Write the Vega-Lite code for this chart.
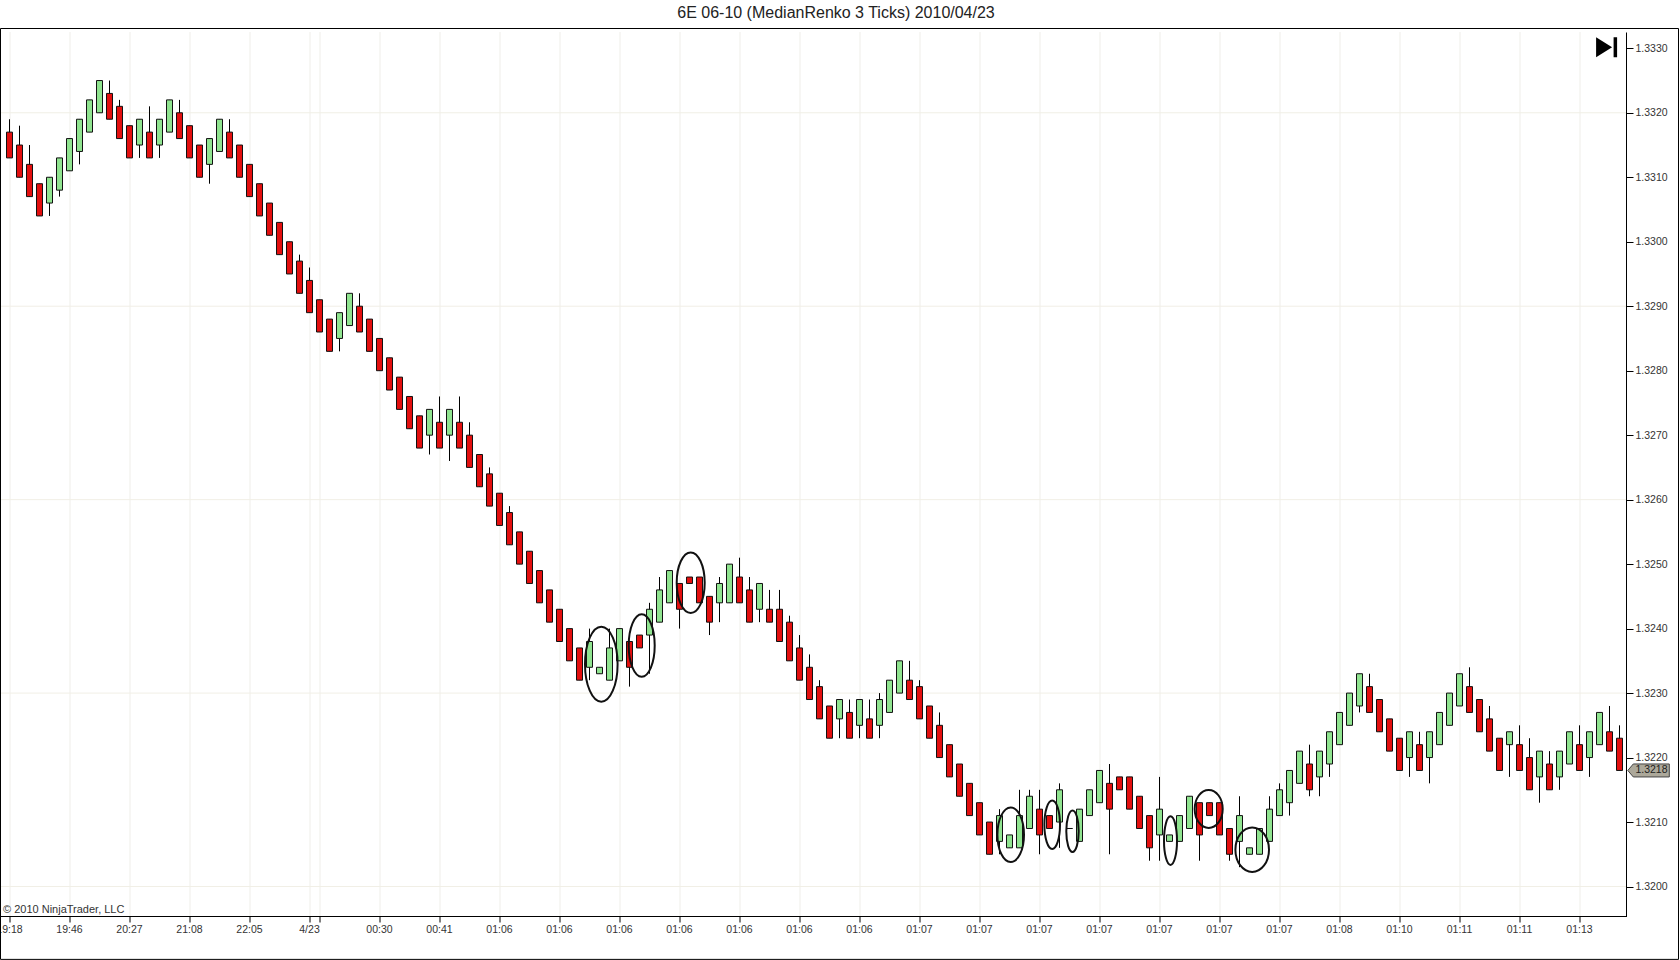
{"$schema":"https://vega.github.io/schema/vega-lite/v6.json","width":1626,"height":884.5,"autosize":"none","padding":{"left":0,"top":32,"right":54,"bottom":43.5},"background":"white","view":{"stroke":null},
"title":{"text":"6E 06-10 (MedianRenko 3 Ticks)  2010/04/23","anchor":"middle","dx":23,"offset":7,"font":"Liberation Sans","fontSize":16,"fontWeight":"normal","color":"#222"},
"datasets":{"bars":[
{"i":0,"o":1.3317,"h":1.3319,"l":1.3313,"c":1.3313},{"i":1,"o":1.3315,"h":1.3318,"l":1.3310,"c":1.3310},{"i":2,"o":1.3312,"h":1.3315,"l":1.3307,"c":1.3307},{"i":3,"o":1.3309,"h":1.3309,"l":1.3304,"c":1.3304},{"i":4,"o":1.3306,"h":1.3310,"l":1.3304,"c":1.3310},{"i":5,"o":1.3308,"h":1.3313,"l":1.3307,"c":1.3313},{"i":6,"o":1.3311,"h":1.3316,"l":1.3311,"c":1.3316},{"i":7,"o":1.3314,"h":1.3319,"l":1.3312,"c":1.3319},{"i":8,"o":1.3317,"h":1.3322,"l":1.3317,"c":1.3322},{"i":9,"o":1.3320,"h":1.3325,"l":1.3320,"c":1.3325},
{"i":10,"o":1.3323,"h":1.3325,"l":1.3319,"c":1.3319},{"i":11,"o":1.3321,"h":1.3322,"l":1.3316,"c":1.3316},{"i":12,"o":1.3318,"h":1.3318,"l":1.3313,"c":1.3313},{"i":13,"o":1.3315,"h":1.3319,"l":1.3313,"c":1.3319},{"i":14,"o":1.3317,"h":1.3321,"l":1.3313,"c":1.3313},{"i":15,"o":1.3315,"h":1.3319,"l":1.3313,"c":1.3319},{"i":16,"o":1.3317,"h":1.3322,"l":1.3317,"c":1.3322},{"i":17,"o":1.3320,"h":1.3322,"l":1.3316,"c":1.3316},{"i":18,"o":1.3318,"h":1.3318,"l":1.3313,"c":1.3313},{"i":19,"o":1.3315,"h":1.3315,"l":1.3310,"c":1.3310},
{"i":20,"o":1.3312,"h":1.3316,"l":1.3309,"c":1.3316},{"i":21,"o":1.3314,"h":1.3319,"l":1.3314,"c":1.3319},{"i":22,"o":1.3317,"h":1.3319,"l":1.3313,"c":1.3313},{"i":23,"o":1.3315,"h":1.3315,"l":1.3310,"c":1.3310},{"i":24,"o":1.3312,"h":1.3312,"l":1.3307,"c":1.3307},{"i":25,"o":1.3309,"h":1.3309,"l":1.3304,"c":1.3304},{"i":26,"o":1.3306,"h":1.3306,"l":1.3301,"c":1.3301},{"i":27,"o":1.3303,"h":1.3303,"l":1.3298,"c":1.3298},{"i":28,"o":1.3300,"h":1.3300,"l":1.3295,"c":1.3295},{"i":29,"o":1.3297,"h":1.3298,"l":1.3292,"c":1.3292},
{"i":30,"o":1.3294,"h":1.3296,"l":1.3289,"c":1.3289},{"i":31,"o":1.3291,"h":1.3291,"l":1.3286,"c":1.3286},{"i":32,"o":1.3288,"h":1.3288,"l":1.3283,"c":1.3283},{"i":33,"o":1.3285,"h":1.3289,"l":1.3283,"c":1.3289},{"i":34,"o":1.3287,"h":1.3292,"l":1.3287,"c":1.3292},{"i":35,"o":1.3290,"h":1.3292,"l":1.3286,"c":1.3286},{"i":36,"o":1.3288,"h":1.3288,"l":1.3283,"c":1.3283},{"i":37,"o":1.3285,"h":1.3285,"l":1.3280,"c":1.3280},{"i":38,"o":1.3282,"h":1.3282,"l":1.3277,"c":1.3277},{"i":39,"o":1.3279,"h":1.3279,"l":1.3274,"c":1.3274},
{"i":40,"o":1.3276,"h":1.3276,"l":1.3271,"c":1.3271},{"i":41,"o":1.3273,"h":1.3273,"l":1.3268,"c":1.3268},{"i":42,"o":1.3270,"h":1.3274,"l":1.3267,"c":1.3274},{"i":43,"o":1.3272,"h":1.3276,"l":1.3268,"c":1.3268},{"i":44,"o":1.3270,"h":1.3274,"l":1.3266,"c":1.3274},{"i":45,"o":1.3272,"h":1.3276,"l":1.3268,"c":1.3268},{"i":46,"o":1.3270,"h":1.3272,"l":1.3265,"c":1.3265},{"i":47,"o":1.3267,"h":1.3267,"l":1.3262,"c":1.3262},{"i":48,"o":1.3264,"h":1.3265,"l":1.3259,"c":1.3259},{"i":49,"o":1.3261,"h":1.3261,"l":1.3256,"c":1.3256},
{"i":50,"o":1.3258,"h":1.3259,"l":1.3253,"c":1.3253},{"i":51,"o":1.3255,"h":1.3255,"l":1.3250,"c":1.3250},{"i":52,"o":1.3252,"h":1.3252,"l":1.3247,"c":1.3247},{"i":53,"o":1.3249,"h":1.3249,"l":1.3244,"c":1.3244},{"i":54,"o":1.3246,"h":1.3246,"l":1.3241,"c":1.3241},{"i":55,"o":1.3243,"h":1.3243,"l":1.3238,"c":1.3238},{"i":56,"o":1.3240,"h":1.3240,"l":1.3235,"c":1.3235},{"i":57,"o":1.3237,"h":1.3237,"l":1.3232,"c":1.3232},{"i":58,"o":1.3234,"h":1.3240,"l":1.3232,"c":1.3238},{"i":59,"o":1.3233,"h":1.3234,"l":1.3233,"c":1.3234},
{"i":60,"o":1.3232,"h":1.3240,"l":1.3232,"c":1.3237},{"i":61,"o":1.3235,"h":1.3240,"l":1.3235,"c":1.3240},{"i":62,"o":1.3238,"h":1.3238,"l":1.3231,"c":1.3234},{"i":63,"o":1.3239,"h":1.3239,"l":1.3237,"c":1.3237},{"i":64,"o":1.3239,"h":1.3244,"l":1.3233,"c":1.3243},{"i":65,"o":1.3241,"h":1.3248,"l":1.3241,"c":1.3246},{"i":66,"o":1.3244,"h":1.3249,"l":1.3244,"c":1.3249},{"i":67,"o":1.3247,"h":1.3247,"l":1.3240,"c":1.3243},{"i":68,"o":1.3248,"h":1.3248,"l":1.3247,"c":1.3247},{"i":69,"o":1.3248,"h":1.3248,"l":1.3244,"c":1.3244},
{"i":70,"o":1.3245,"h":1.3245,"l":1.3239,"c":1.3241},{"i":71,"o":1.3244,"h":1.3248,"l":1.3241,"c":1.3247},{"i":72,"o":1.3244,"h":1.3250,"l":1.3244,"c":1.3250},{"i":73,"o":1.3248,"h":1.3251,"l":1.3244,"c":1.3244},{"i":74,"o":1.3246,"h":1.3248,"l":1.3241,"c":1.3241},{"i":75,"o":1.3243,"h":1.3247,"l":1.3241,"c":1.3247},{"i":76,"o":1.3243,"h":1.3246,"l":1.3241,"c":1.3241},{"i":77,"o":1.3243,"h":1.3246,"l":1.3238,"c":1.3238},{"i":78,"o":1.3241,"h":1.3242,"l":1.3235,"c":1.3235},{"i":79,"o":1.3237,"h":1.3239,"l":1.3232,"c":1.3232},
{"i":80,"o":1.3234,"h":1.3236,"l":1.3229,"c":1.3229},{"i":81,"o":1.3231,"h":1.3232,"l":1.3226,"c":1.3226},{"i":82,"o":1.3228,"h":1.3228,"l":1.3223,"c":1.3223},{"i":83,"o":1.3226,"h":1.3229,"l":1.3223,"c":1.3229},{"i":84,"o":1.3227,"h":1.3229,"l":1.3223,"c":1.3223},{"i":85,"o":1.3225,"h":1.3229,"l":1.3223,"c":1.3229},{"i":86,"o":1.3226,"h":1.3229,"l":1.3223,"c":1.3223},{"i":87,"o":1.3225,"h":1.3230,"l":1.3223,"c":1.3229},{"i":88,"o":1.3227,"h":1.3232,"l":1.3227,"c":1.3232},{"i":89,"o":1.3230,"h":1.3235,"l":1.3230,"c":1.3235},
{"i":90,"o":1.3232,"h":1.3235,"l":1.3229,"c":1.3229},{"i":91,"o":1.3231,"h":1.3232,"l":1.3226,"c":1.3226},{"i":92,"o":1.3228,"h":1.3228,"l":1.3223,"c":1.3223},{"i":93,"o":1.3225,"h":1.3227,"l":1.3220,"c":1.3220},{"i":94,"o":1.3222,"h":1.3222,"l":1.3217,"c":1.3217},{"i":95,"o":1.3219,"h":1.3219,"l":1.3214,"c":1.3214},{"i":96,"o":1.3216,"h":1.3216,"l":1.3211,"c":1.3211},{"i":97,"o":1.3213,"h":1.3213,"l":1.3208,"c":1.3208},{"i":98,"o":1.3210,"h":1.3210,"l":1.3205,"c":1.3205},{"i":99,"o":1.3207,"h":1.3212,"l":1.3205,"c":1.3211},
{"i":100,"o":1.3206,"h":1.3208,"l":1.3206,"c":1.3208},{"i":101,"o":1.3206,"h":1.3215,"l":1.3206,"c":1.3211},{"i":102,"o":1.3209,"h":1.3215,"l":1.3209,"c":1.3214},{"i":103,"o":1.3212,"h":1.3215,"l":1.3205,"c":1.3208},{"i":104,"o":1.3211,"h":1.3211,"l":1.3209,"c":1.3209},{"i":105,"o":1.3210,"h":1.3216,"l":1.3206,"c":1.3215},{"i":106,"o":1.3209,"h":1.3209,"l":1.3209,"c":1.3209},{"i":107,"o":1.3207,"h":1.3212,"l":1.3207,"c":1.3212},{"i":108,"o":1.3211,"h":1.3215,"l":1.3211,"c":1.3215},{"i":109,"o":1.3213,"h":1.3218,"l":1.3213,"c":1.3218},
{"i":110,"o":1.3216,"h":1.3219,"l":1.3205,"c":1.3212},{"i":111,"o":1.3217,"h":1.3217,"l":1.3215,"c":1.3215},{"i":112,"o":1.3217,"h":1.3217,"l":1.3212,"c":1.3212},{"i":113,"o":1.3214,"h":1.3214,"l":1.3209,"c":1.3209},{"i":114,"o":1.3211,"h":1.3211,"l":1.3204,"c":1.3206},{"i":115,"o":1.3208,"h":1.3217,"l":1.3204,"c":1.3212},{"i":116,"o":1.3207,"h":1.3208,"l":1.3207,"c":1.3208},{"i":117,"o":1.3207,"h":1.3211,"l":1.3207,"c":1.3211},{"i":118,"o":1.3209,"h":1.3214,"l":1.3209,"c":1.3214},{"i":119,"o":1.3213,"h":1.3213,"l":1.3204,"c":1.3208},
{"i":120,"o":1.3213,"h":1.3213,"l":1.3211,"c":1.3211},{"i":121,"o":1.3213,"h":1.3213,"l":1.3208,"c":1.3208},{"i":122,"o":1.3209,"h":1.3209,"l":1.3204,"c":1.3205},{"i":123,"o":1.3207,"h":1.3214,"l":1.3203,"c":1.3211},{"i":124,"o":1.3205,"h":1.3206,"l":1.3205,"c":1.3206},{"i":125,"o":1.3205,"h":1.3209,"l":1.3205,"c":1.3209},{"i":126,"o":1.3207,"h":1.3214,"l":1.3207,"c":1.3212},{"i":127,"o":1.3211,"h":1.3216,"l":1.3211,"c":1.3215},{"i":128,"o":1.3213,"h":1.3218,"l":1.3211,"c":1.3218},{"i":129,"o":1.3216,"h":1.3221,"l":1.3216,"c":1.3221},
{"i":130,"o":1.3219,"h":1.3222,"l":1.3214,"c":1.3215},{"i":131,"o":1.3217,"h":1.3221,"l":1.3214,"c":1.3221},{"i":132,"o":1.3219,"h":1.3224,"l":1.3217,"c":1.3224},{"i":133,"o":1.3222,"h":1.3227,"l":1.3222,"c":1.3227},{"i":134,"o":1.3225,"h":1.3230,"l":1.3225,"c":1.3230},{"i":135,"o":1.3228,"h":1.3233,"l":1.3227,"c":1.3233},{"i":136,"o":1.3231,"h":1.3233,"l":1.3227,"c":1.3227},{"i":137,"o":1.3229,"h":1.3229,"l":1.3224,"c":1.3224},{"i":138,"o":1.3226,"h":1.3226,"l":1.3221,"c":1.3221},{"i":139,"o":1.3223,"h":1.3223,"l":1.3218,"c":1.3218},
{"i":140,"o":1.3220,"h":1.3224,"l":1.3217,"c":1.3224},{"i":141,"o":1.3222,"h":1.3224,"l":1.3218,"c":1.3218},{"i":142,"o":1.3220,"h":1.3224,"l":1.3216,"c":1.3224},{"i":143,"o":1.3222,"h":1.3227,"l":1.3222,"c":1.3227},{"i":144,"o":1.3225,"h":1.3230,"l":1.3225,"c":1.3230},{"i":145,"o":1.3228,"h":1.3233,"l":1.3228,"c":1.3233},{"i":146,"o":1.3231,"h":1.3234,"l":1.3227,"c":1.3227},{"i":147,"o":1.3229,"h":1.3229,"l":1.3224,"c":1.3224},{"i":148,"o":1.3226,"h":1.3228,"l":1.3221,"c":1.3221},{"i":149,"o":1.3223,"h":1.3223,"l":1.3218,"c":1.3218},
{"i":150,"o":1.3222,"h":1.3224,"l":1.3217,"c":1.3224},{"i":151,"o":1.3222,"h":1.3225,"l":1.3218,"c":1.3218},{"i":152,"o":1.3220,"h":1.3223,"l":1.3215,"c":1.3215},{"i":153,"o":1.3217,"h":1.3221,"l":1.3213,"c":1.3221},{"i":154,"o":1.3219,"h":1.3221,"l":1.3215,"c":1.3215},{"i":155,"o":1.3217,"h":1.3221,"l":1.3215,"c":1.3221},{"i":156,"o":1.3219,"h":1.3224,"l":1.3219,"c":1.3224},{"i":157,"o":1.3222,"h":1.3225,"l":1.3218,"c":1.3218},{"i":158,"o":1.3220,"h":1.3224,"l":1.3217,"c":1.3224},{"i":159,"o":1.3222,"h":1.3227,"l":1.3222,"c":1.3227},
{"i":160,"o":1.3224,"h":1.3228,"l":1.3221,"c":1.3221},{"i":161,"o":1.3223,"h":1.3225,"l":1.3218,"c":1.3218}],
"gridY":[{"p":1.3320},{"p":1.3290},{"p":1.3260},{"p":1.3230},{"p":1.3200}],
"ellipses":[{"id":"a","i":59.18,"p":1.323448},{"id":"b","i":63.22,"p":1.323738},{"id":"c","i":68.12,"p":1.324712},{"id":"d","i":100.12,"p":1.320804},{"id":"e","i":104.27,"p":1.320958},{"id":"f","i":106.3,"p":1.320858},{"id":"g","i":116.1,"p":1.320711},{"id":"h","i":119.92,"p":1.321203},{"id":"k","i":124.27,"p":1.320571}]},
"data":{"name":"bars"},
"layer":[
{"data":{"name":"gridY"},"mark":{"type":"rule","color":"#f1efe6","strokeWidth":1},
 "encoding":{"y":{"field":"p","type":"quantitative","scale":{"domain":[1.319535,1.3332528],"nice":false,"zero":false,"padding":0},
   "axis":{"orient":"right","title":null,"values":[1.32,1.321,1.322,1.323,1.324,1.325,1.326,1.327,1.328,1.329,1.33,1.331,1.332,1.333],"format":".4f","grid":false,"domainColor":"#000","domainWidth":1,"tickColor":"#000","tickSize":7,"labelPadding":2,"labelFont":"Liberation Sans","labelFontSize":10.5,"labelColor":"#333","labelOverlap":false,"labelBound":false}}}},
{"mark":{"type":"rule","color":"#000","strokeWidth":1},
 "encoding":{"x":{"field":"i","type":"quantitative","scale":{"domain":[-0.95,161.65],"nice":false,"zero":false,"padding":0},
   "axis":{"orient":"bottom","title":null,"translate":0,"values":[0,6,12,18,24,30,31,37,43,49,55,61,67,73,79,85,91,97,103,109,115,121,127,133,139,145,151,157],"labelExpr":"{'0':'19:18','6':'19:46','12':'20:27','18':'21:08','24':'22:05','30':'4/23','31':'','37':'00:30','43':'00:41','49':'01:06','55':'01:06','61':'01:06','67':'01:06','73':'01:06','79':'01:06','85':'01:06','91':'01:07','97':'01:07','103':'01:07','109':'01:07','115':'01:07','121':'01:07','127':'01:07','133':'01:08','139':'01:10','145':'01:11','151':'01:11','157':'01:13'}[''+datum.value]","grid":true,"gridColor":"#efeee9","gridWidth":1,"domainColor":"#000","domainWidth":1,"tickColor":"#000","tickSize":6,"labelPadding":2,"labelFont":"Liberation Sans","labelFontSize":10.5,"labelColor":"#333","labelOverlap":false,"labelBound":false,"labelFlush":false}},
  "y":{"field":"h","type":"quantitative","title":null},"y2":{"field":"l"}}},
{"mark":{"type":"bar","size":6,"stroke":"#111","strokeWidth":1},
 "encoding":{"x":{"field":"i","type":"quantitative","title":null},"y":{"field":"o","type":"quantitative","title":null},"y2":{"field":"c"},
  "fill":{"condition":{"test":"datum.c>=datum.o","value":"#90e490"},"value":"#e30f0f"}}},
{"data":{"name":"ellipses"},"mark":{"type":"point","filled":false,"stroke":"#111","strokeWidth":2,"size":4,"opacity":1},
 "encoding":{"x":{"field":"i","type":"quantitative","title":null},"y":{"field":"p","type":"quantitative","title":null},
  "shape":{"field":"id","type":"nominal","legend":null,"scale":{"domain":["a","b","c","d","e","f","g","h","k"],"range":[
   "M-16.3,0A16.3,37.5,0,1,0,16.3,0A16.3,37.5,0,1,0,-16.3,0Z","M-13,0A13,31.2,0,1,0,13,0A13,31.2,0,1,0,-13,0Z","M-14,0A14,30.3,0,1,0,14,0A14,30.3,0,1,0,-14,0Z","M-13.3,0A13.3,27.3,0,1,0,13.3,0A13.3,27.3,0,1,0,-13.3,0Z","M-7.8,0A7.8,24.2,0,1,0,7.8,0A7.8,24.2,0,1,0,-7.8,0Z","M-6.2,0A6.2,20.8,0,1,0,6.2,0A6.2,20.8,0,1,0,-6.2,0Z","M-6.5,0A6.5,24.3,0,1,0,6.5,0A6.5,24.3,0,1,0,-6.5,0Z","M-14,0A14,19,0,1,0,14,0A14,19,0,1,0,-14,0Z","M-16.8,0A16.8,22.3,0,1,0,16.8,0A16.8,22.3,0,1,0,-16.8,0Z"]}}}},
{"data":{"values":[{"label":"frame"}]},"mark":{"type":"rect","fill":"transparent","stroke":"#000","strokeWidth":1},
 "encoding":{"x":{"datum":-0.9,"type":"quantitative","title":null},"x2":{"datum":166.9},"y":{"datum":1.333307,"type":"quantitative","title":null},"y2":{"datum":1.31887}}},
{"data":{"values":[{"i":159.66,"p":1.333016,"icon":"goto-end"}]},"mark":{"type":"point","filled":true,"fill":"#000","stroke":null,"opacity":1,"size":4,"shape":"M-10,-10L6,0L-10,10ZM7.5,-10L11,-10L11,10L7.5,10Z"},
 "encoding":{"x":{"field":"i","type":"quantitative","title":null},"y":{"field":"p","type":"quantitative","title":null}}},
{"data":{"values":[{"i":163.88,"p":1.3218}]},"mark":{"type":"point","filled":true,"fill":"#aca89a","stroke":"#444","strokeWidth":1,"opacity":1,"size":4,"shape":"M-20.5,0L-15,-6.5L21,-6.5L21,6.5L-15,6.5Z"},
 "encoding":{"x":{"field":"i","type":"quantitative","title":null},"y":{"field":"p","type":"quantitative","title":null}}},
{"data":{"values":[{"i":164.2,"p":1.3218,"label":"1.3218"}]},"mark":{"type":"text","font":"Liberation Sans","fontSize":10.5,"color":"#222","align":"center","baseline":"middle"},
 "encoding":{"x":{"field":"i","type":"quantitative","title":null},"y":{"field":"p","type":"quantitative","title":null},"text":{"field":"label"}}},
{"data":{"values":[{"i":-0.65,"p":1.319637,"label":"© 2010 NinjaTrader, LLC"}]},"mark":{"type":"text","font":"Liberation Sans","fontSize":11,"color":"#333","align":"left","baseline":"middle"},
 "encoding":{"x":{"field":"i","type":"quantitative","title":null},"y":{"field":"p","type":"quantitative","title":null},"text":{"field":"label"}}}
]}
